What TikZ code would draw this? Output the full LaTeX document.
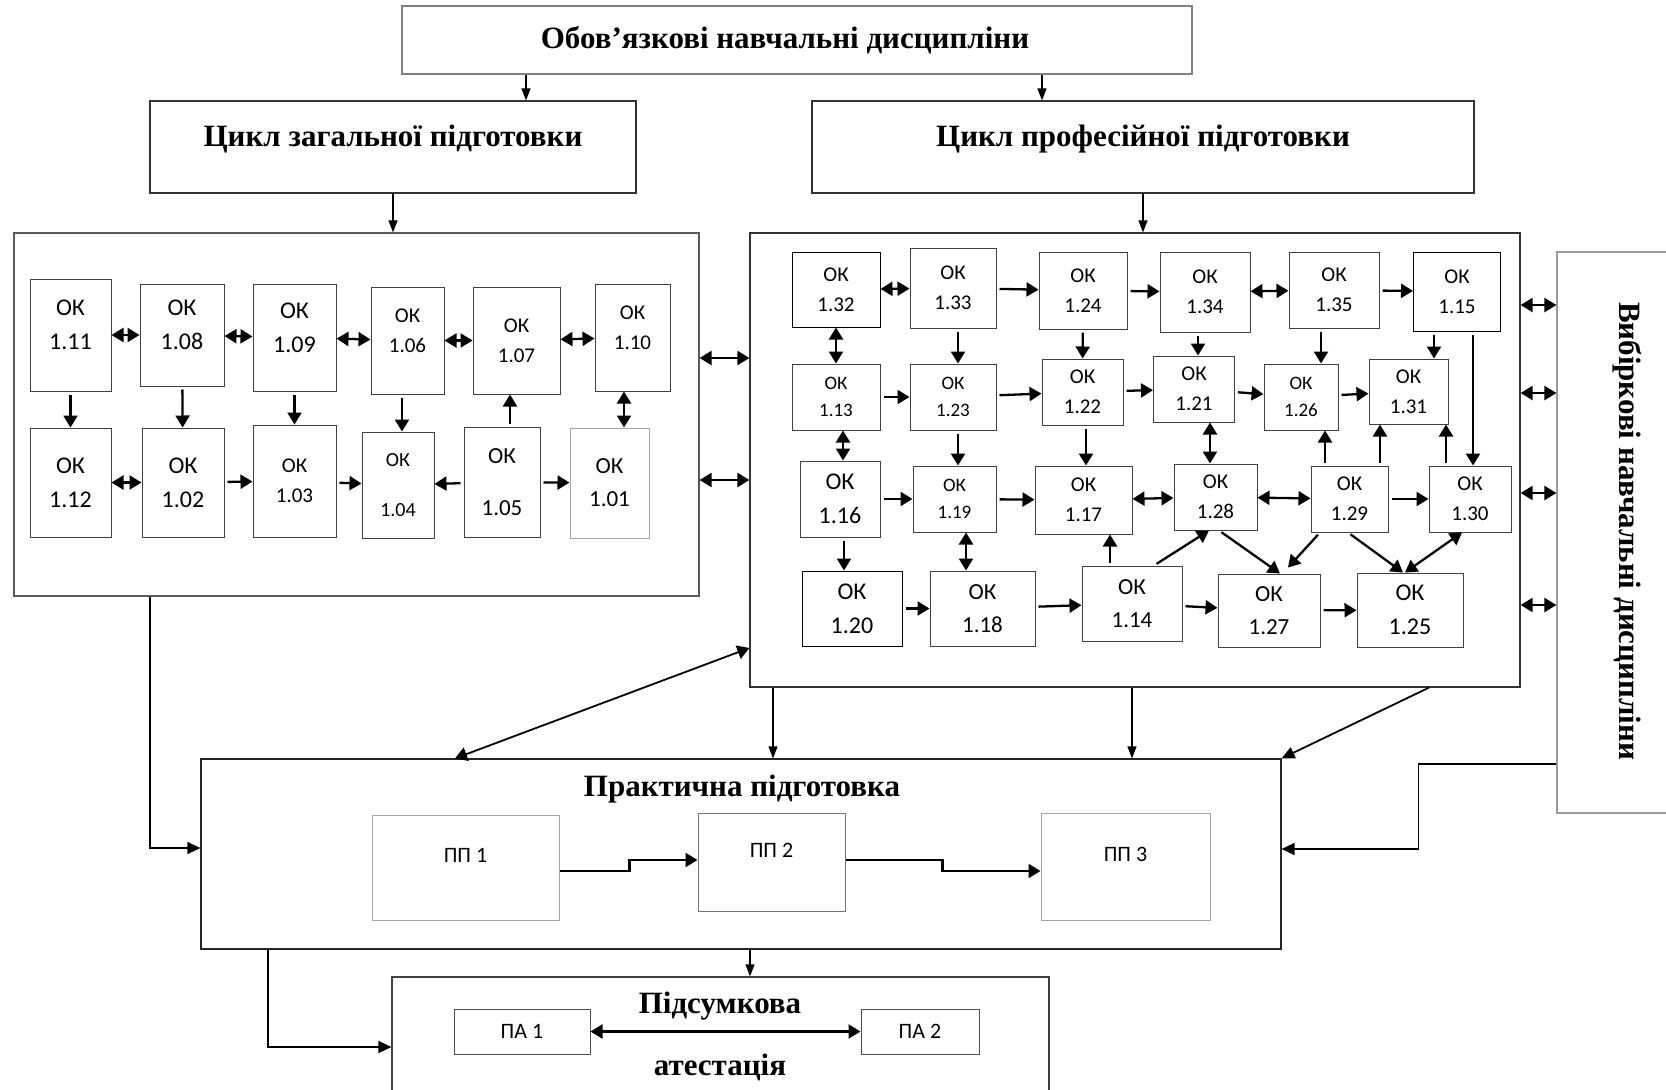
\documentclass[tikz,border=0pt]{standalone}
\usepackage{fontspec}
\setmainfont{Liberation Serif}
\newfontfamily\okfont{Carlito}
\usetikzlibrary{arrows.meta}

\tikzset{
  okbox/.style={draw=black!75, line width=1pt, inner sep=0pt, align=center,
    font=\okfont\fontsize{21}{30}\selectfont},
  oksmall/.style={okbox, font=\okfont\fontsize{19}{27}\selectfont},
  okbig/.style={okbox, font=\okfont\fontsize{24}{34}\selectfont},
  wh/.style 2 args={minimum width=#1pt, minimum height=#2pt},
  lift/.style={text depth=20pt},
  headbox/.style={draw=black!80, line width=1.2pt, inner sep=0pt,
    font=\bfseries\fontsize{31}{37}\selectfont},
  headtxt/.style={inner sep=0pt, font=\bfseries\fontsize{31}{37}\selectfont},
  bigbox/.style={draw=black!65, line width=1.2pt, inner sep=0pt},
  ppbox/.style={draw=black!35, line width=1pt, inner sep=0pt, text depth=24pt,
    font=\okfont\fontsize{22}{26}\selectfont},
  arr/.style={-{Triangle[length=12pt,width=14pt]}, line width=2.3pt, shorten <=3pt},
  darr/.style={{Triangle[length=12pt,width=14pt]}-{Triangle[length=12pt,width=14pt]}, line width=2.3pt},
  tarr/.style={-{Triangle[length=12pt,width=9pt]}, line width=1.2pt},
  marr/.style={-{Triangle[length=13pt,width=12pt]}, line width=1.8pt}
}

\begin{document}
\begin{tikzpicture}[x=1pt,y=-1pt]
  \useasboundingbox (0,0) rectangle (1666,1090);
  \clip (0,0) rectangle (1666,1090);

  \node[headbox, draw=black!50, wh={790}{68}] (oblig) at (797,40) {Обов’язкові навчальні дисципліни\hspace*{24pt}};
  \node[headbox, wh={486}{92}, text depth=22pt] (cgen) at (393,147) {Цикл загальної підготовки};
  \node[headbox, wh={662}{92}, text depth=22pt] (cprof) at (1143,147) {Цикл професійної підготовки};

  \node[bigbox, wh={685}{363}] (gen) at (356.5,414.5) {};
  \node[bigbox, draw=black!80, wh={770}{454}] (prof) at (1135,460) {};
  \node[bigbox, draw=black!40, wh={150}{561}] (vyb) at (1632,532.5) {};
  \node[headtxt, rotate=-90] (vybtxt) at (1627,531) {Вибіркові навчальні дисципліни};

  \node[okbig, lift, wh={81}{112}] (k11) at (70.5,335) {ОК\\1.11};
  \node[okbig, lift, wh={84}{102}] (k08) at (182,335) {ОК\\1.08};
  \node[okbig, lift, wh={83}{107}] (k09) at (294.5,337.5) {ОК\\1.09};
  \node[okbox, lift, wh={73}{107}] (k06) at (407.5,340.5) {ОК\\1.06};
  \node[okbox, wh={87}{107}] (k07) at (516.5,340.5) {ОК\\1.07};
  \node[okbox, lift, wh={75}{107}] (k10) at (632.5,337.5) {ОК\\1.10};
  \node[okbig, wh={81}{109}] (k12) at (70.5,482.5) {ОК\\1.12};
  \node[okbig, wh={82}{109}] (k02) at (183,482.5) {ОК\\1.02};
  \node[okbox, wh={83}{112}] (k03) at (294.5,481) {ОК\\1.03};
  \node[okbox, wh={72}{106}, font=\okfont\fontsize{20}{30}\selectfont] (k04) at (398,485) {ОК\\[20pt]1.04};
  \node[okbox, wh={76}{110}, font=\okfont\fontsize{23}{30}\selectfont] (k05) at (502,482) {ОК\\[22pt]1.05};
  \node[okbox, draw=black!35, wh={79}{110}, font=\okfont\fontsize{23}{33}\selectfont] (k01) at (609.5,483) {ОК\\1.01};

  \node[okbox, draw=black, wh={88}{75}] (k32) at (836,289.5) {ОК\\1.32};
  \node[okbox, wh={86}{80}] (k33) at (953,288) {ОК\\1.33};
  \node[okbox, wh={88}{77}] (k24) at (1083,290.5) {ОК\\1.24};
  \node[okbox, wh={90}{80}] (k34) at (1205,292) {ОК\\1.34};
  \node[okbox, wh={90}{76}] (k35) at (1334,290) {ОК\\1.35};
  \node[okbox, draw=black, wh={87}{79}] (k15) at (1457,291.5) {ОК\\1.15};
  \node[oksmall, wh={88}{66}] (k13) at (836,397) {ОК\\1.13};
  \node[oksmall, wh={86}{66}] (k23) at (953,397) {ОК\\1.23};
  \node[okbox, wh={81}{66}] (k22) at (1082.5,392) {ОК\\1.22};
  \node[okbox, wh={81}{66}] (k21) at (1194,389) {ОК\\1.21};
  \node[oksmall, wh={74}{66}] (k26) at (1301,397) {ОК\\1.26};
  \node[okbox, wh={79}{65}] (k31) at (1408.5,391.5) {ОК\\1.31};
  \node[okbig, wh={80}{76}] (k16) at (840,499) {ОК\\1.16};
  \node[oksmall, wh={83}{66}] (k19) at (954.5,499) {ОК\\1.19};
  \node[okbox, wh={97}{68}] (k17) at (1083.5,500) {ОК\\1.17};
  \node[okbox, wh={83}{66}] (k28) at (1215.5,497) {ОК\\1.28};
  \node[okbox, wh={77}{66}] (k29) at (1349.5,499) {ОК\\1.29};
  \node[okbox, wh={82}{66}] (k30) at (1470,499) {ОК\\1.30};
  \node[okbig, draw=black, wh={100}{75}] (k20) at (852,608.5) {ОК\\1.20};
  \node[okbox, wh={105}{75}, font=\okfont\fontsize{23}{33}\selectfont] (k18) at (982.5,608.5) {ОК\\1.18};
  \node[okbox, wh={100}{75}, font=\okfont\fontsize{23}{33}\selectfont] (k14) at (1132,603.5) {ОК\\1.14};
  \node[okbox, wh={102}{73}, font=\okfont\fontsize{23}{33}\selectfont] (k27) at (1269,610.5) {ОК\\1.27};
  \node[okbig, wh={106}{74}] (k25) at (1410,610) {ОК\\1.25};

  \node[bigbox, draw=black!85, wh={1080}{190}] (prak) at (741,854) {};
  \node[headtxt] (praktxt) at (742,789) {Практична підготовка};
  \node[ppbox, wh={187}{105}] (pp1) at (465.5,867.5) {ПП 1};
  \node[ppbox, draw=black!55, wh={147}{98}] (pp2) at (771.5,862) {ПП 2};
  \node[ppbox, wh={169}{107}] (pp3) at (1125.5,866.5) {ПП 3};

  \node[bigbox, draw=black!75, wh={657}{140}] (psum) at (720.5,1047) {};
  \node[headtxt, align=center, font=\bfseries\fontsize{31}{62}\selectfont] (pstxt) at (720,1036) {Підсумкова\\атестація};
  \node[okbox, draw=black!70, wh={136}{45}, font=\okfont\fontsize{22}{26}\selectfont] (pa1) at (522,1031.5) {ПА 1};
  \node[okbox, draw=black!70, wh={118}{45}, font=\okfont\fontsize{22}{26}\selectfont] (pa2) at (920,1031.5) {ПА 2};

  \path[tarr]
  (oblig.south -| 526,0) edge (cgen.north -| 526,0)
  (oblig.south -| 1042,0) edge (cprof.north -| 1042,0)
  (cgen) edge (cgen |- gen.north)
  (cprof) edge (cprof |- prof.north)
  (prof.south -| 773,0) edge (prak.north -| 773,0)
  (prof.south -| 1132,0) edge (prak.north -| 1132,0)
  (prak.south -| 750,0) edge (psum.north -| 750,0);

  \path[darr]
  (k11) edge (k08)
  (k08) edge (k09)
  (k09) edge (k06)
  (k06) edge (k07)
  (k07) edge (k10)
  (k12) edge (k02)
  (k10.south -| 624,0) edge (k01.north -| 624,0)
  (gen.east |- 0,358) edge (prof.west |- 0,358)
  (gen.east |- 0,480) edge (prof.west |- 0,480)
  (k32) edge (k33)
  (k34) edge (k35)
  (k32) edge (k13)
  (k13.south -| 843,0) edge (k16.north -| 843,0)
  (k21.south -| 1210,0) edge (k28.north -| 1210,0)
  (k17) edge (k28)
  (k28) edge (k29)
  (k19.south -| 966,0) edge (k18.north -| 966,0)
  (k30.south -| 1462,0) edge (k25.north -| 1405,0)
  (prof.east |- 0,305) edge (vyb.west |- 0,305)
  (prof.east |- 0,393) edge (vyb.west |- 0,393)
  (prof.east |- 0,493) edge (vyb.west |- 0,493)
  (prof.east |- 0,605) edge (vyb.west |- 0,605)
  (pa1) edge (pa2);

  \path[arr]
  (k11) edge (k12)
  (k08) edge (k02)
  (k09) edge (k03)
  (k06.south -| 402,0) edge (k04.north -| 402,0)
  (k05.north -| 510,0) edge (k07.south -| 510,0)
  (k02) edge (k03)
  (k03) edge (k04)
  (k05) edge (k04)
  (k05) edge (k01)
  (k33) edge (k24)
  (k24) edge (k34)
  (k35) edge (k15)
  (k33.south -| 958,0) edge (k23.north -| 958,0)
  (k24) edge (k22)
  (k34.south -| 1198,0) edge (k21.north -| 1198,0)
  (k35.south -| 1321,0) edge (k26.north -| 1321,0)
  (k15.south -| 1434,0) edge (k31.north -| 1434,0)
  (k15.south -| 1473,0) edge (k30.north -| 1473,0)
  (k13) edge (k23)
  (k23) edge (k22)
  (k22) edge (k21)
  (k21) edge (k26)
  (k26) edge (k31)
  (k23.south -| 958,0) edge (k19.north -| 958,0)
  (k22.south -| 1086,0) edge (k17.north -| 1086,0)
  (k29.north -| 1325,0) edge (k26.south -| 1325,0)
  (k29.north -| 1380,0) edge (k31.south -| 1380,0)
  (k30.north -| 1446,0) edge (k31.south -| 1446,0)
  (k16) edge (k19)
  (k19) edge (k17)
  (k29) edge (k30)
  (k16.south -| 844,0) edge (k20.north -| 844,0)
  (k14.north -| 1110,0) edge (k17.south -| 1110,0)
  (k14.north -| 1154,0) edge (k28.south -| 1209,0)
  (k28.south -| 1219,0) edge (k27.north -| 1280,0)
  (k29.south -| 1320,0) edge ([yshift=6pt]k27.north -| 1288,0)
  (k29.south -| 1348,0) edge (k25.north -| 1403,0)
  (k20) edge (k18)
  (k18) edge (k14)
  (k14) edge (k27)
  (k27) edge (k25);

  \draw[darr, line width=1.8pt] (prof.west |- 0,648) -- (prak.north -| 455,0);
  \draw[marr] (prof.south -| 1429,0) -- (prak.north east);
  \draw[marr, line width=1.4pt] (gen.south -| 150,0) |- (prak.west |- 0,848);
  \draw[marr] (vyb.west |- 0,764) -- ++(-138,0) |- (prak.east |- 0,849);
  \draw[marr, line width=1.4pt] (prak.south -| 268,0) |- (psum.west |- 0,1047);
  \draw[arr, shorten <=0pt] (pp1.east |- 0,871) -- ++(70,0) |- (pp2.west |- 0,860);
  \draw[arr, shorten <=0pt] (pp2.east |- 0,860) -- ++(97,0) |- (pp3.west |- 0,871);
\end{tikzpicture}
\end{document}
